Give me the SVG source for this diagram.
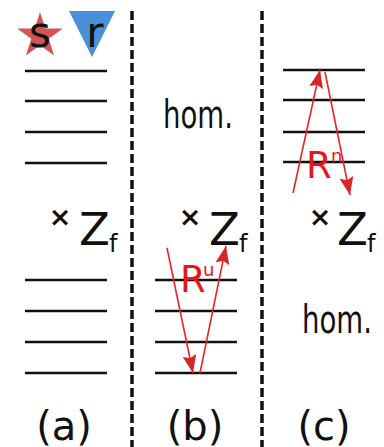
<svg xmlns="http://www.w3.org/2000/svg" width="384" height="447" viewBox="0 0 384 447">
<style>
.lvl{stroke:#111;stroke-width:2.6;fill:none}
.div{stroke:#111;stroke-width:3.5;stroke-dasharray:9 4;fill:none}
.t{font-family:"DejaVu Sans",sans-serif;fill:#111}
.x{font-family:"DejaVu Sans",sans-serif;fill:#111;font-weight:bold}
.rt{font-family:"DejaVu Sans",sans-serif;fill:#e8161b}
.arr{stroke:#e8262a;stroke-width:1.6;fill:none;marker-end:url(#ah)}
</style>
<defs>
<marker id="ah" viewBox="0 0 18 14" refX="18" refY="7" markerWidth="18" markerHeight="14" markerUnits="userSpaceOnUse" orient="auto">
<path d="M0,0 L18,7 L0,14 L3,7 z" fill="#d62728"/>
</marker>
</defs>
<g id="dividers">
<line class="div" x1="132" y1="11" x2="132" y2="447"/>
<line class="div" x1="262" y1="11" x2="262" y2="447"/>
</g>
<g id="legend">
<polygon points="40,12 45.41,28.56 62.83,28.58 48.75,38.84 54.11,55.42 40,45.2 25.89,55.42 31.25,38.84 17.17,28.58 34.59,28.56" fill="#d65353"/>
<text class="t" x="40" y="47" font-size="42" text-anchor="middle">s</text>
<polygon points="69,11 115,11 92,57" fill="#4a90d9"/>
<text class="t" x="95" y="47" font-size="42" text-anchor="middle">r</text>
</g>
<g id="panel-a">
<line class="lvl" x1="25" y1="71" x2="107" y2="71"/>
<line class="lvl" x1="25" y1="101" x2="107" y2="101"/>
<line class="lvl" x1="25" y1="132" x2="107" y2="132"/>
<line class="lvl" x1="25" y1="163" x2="107" y2="163"/>
<line class="lvl" x1="25" y1="280" x2="107" y2="280"/>
<line class="lvl" x1="25" y1="311" x2="107" y2="311"/>
<line class="lvl" x1="25" y1="342" x2="107" y2="342"/>
<line class="lvl" x1="25" y1="373" x2="107" y2="373"/>
<text class="x" x="60" y="226" font-size="27" text-anchor="middle">×</text>
<text class="t" x="79" y="245" font-size="45">Z</text>
<text class="t" x="109" y="252" font-size="24">f</text>
<text class="t" x="64" y="440" font-size="40" text-anchor="middle">(a)</text>
</g>
<g id="panel-b">
<text class="t" x="163" y="128" font-size="39" textLength="70" lengthAdjust="spacingAndGlyphs">hom.</text>
<text class="x" x="190" y="226" font-size="27" text-anchor="middle">×</text>
<text class="t" x="209" y="245" font-size="45">Z</text>
<text class="t" x="239" y="252" font-size="24">f</text>
<line class="lvl" x1="155" y1="280" x2="237" y2="280"/>
<line class="lvl" x1="155" y1="311" x2="237" y2="311"/>
<line class="lvl" x1="155" y1="342" x2="237" y2="342"/>
<line class="lvl" x1="155" y1="373" x2="237" y2="373"/>
<text class="rt" x="180" y="292" font-size="37">R</text>
<text class="rt" x="203" y="276" font-size="18">u</text>
<text class="t" x="195" y="440" font-size="40" text-anchor="middle">(b)</text>
</g>
<g id="panel-c">
<line class="lvl" x1="283" y1="70" x2="365" y2="70"/>
<line class="lvl" x1="283" y1="100" x2="365" y2="100"/>
<line class="lvl" x1="283" y1="132" x2="365" y2="132"/>
<line class="lvl" x1="283" y1="162" x2="365" y2="162"/>
<text class="rt" x="306" y="178" font-size="37">R</text>
<text class="rt" x="331" y="162" font-size="18">n</text>
<text class="x" x="320" y="226" font-size="27" text-anchor="middle">×</text>
<text class="t" x="337" y="245" font-size="45">Z</text>
<text class="t" x="367" y="252" font-size="24">f</text>
<text class="t" x="302" y="333" font-size="39" textLength="70" lengthAdjust="spacingAndGlyphs">hom.</text>
<text class="t" x="324" y="440" font-size="40" text-anchor="middle">(c)</text>
</g>
<g id="connectors">
<line class="arr" x1="167" y1="248" x2="193" y2="373"/>
<line class="arr" x1="200" y1="373" x2="226" y2="246"/>
<line class="arr" x1="293" y1="193" x2="320" y2="70"/>
<line class="arr" x1="325" y1="72" x2="350" y2="195"/>
</g>
</svg>
